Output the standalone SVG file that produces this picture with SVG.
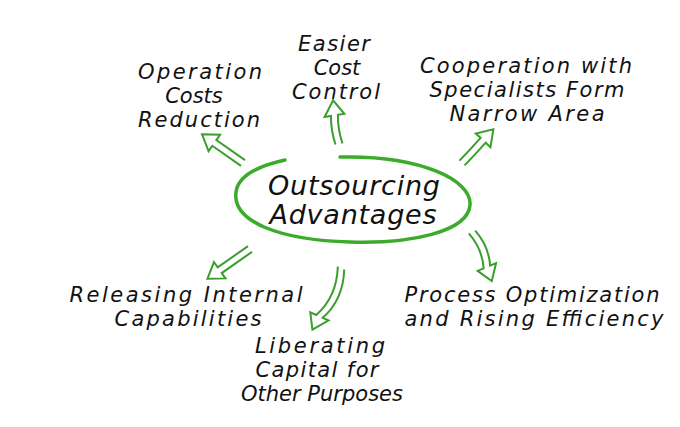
<svg xmlns="http://www.w3.org/2000/svg" width="680" height="427" viewBox="0 0 680 427">
<style>
.t{font-family:"DejaVu Sans","Liberation Sans",sans-serif;font-style:italic;font-size:21px;fill:#111;text-anchor:middle}
.big{font-size:27px}
.arr{fill:#fff;stroke:#3a9e2c;stroke-width:2;stroke-linejoin:miter}
</style>
<rect width="680" height="427" fill="#fff"/>
<g id="center">
<path d="M340,157 C420,155 472,180 470,205 C468,232 410,244 350,242 C280,240 232,222 236,192 C238,176 258,166 285,160" fill="none" stroke="#3cab2c" stroke-width="3.5" stroke-linecap="round"/>
<text class="t big" x="354" y="195" textLength="172" lengthAdjust="spacing">Outsourcing</text>
<text class="t big" x="353" y="224" textLength="167" lengthAdjust="spacing">Advantages</text>
</g>
<g id="connectors">
<path class="arr" transform="translate(243,163) rotate(215)" d="M0,-3.5 L35,-3.5 L35,-10 L50,0 L35,10 L35,3.5 L0,3.5"/>
<path class="arr" transform="translate(339,144) rotate(261)" d="M0,-3.5 Q15,-6 29,-3.5 L29,-10 L44,1 L29,10 L29,3.5 Q15,1 0,3.5"/>
<path class="arr" transform="translate(462,163) rotate(-47)" d="M0,-3.5 Q16,-3 31,-3.5 L31,-10 L46,0 L31,10 L31,3.5 Q16,4 0,3.5"/>
<path class="arr" transform="translate(250,249) rotate(145)" d="M0,-3.5 L37,-3.5 L37,-10 L52,0 L37,10 L37,3.5 L0,3.5"/>
<path class="arr" transform="translate(341,268) rotate(114)" d="M0,-3.5 Q28,-15 53,-3.5 L53,-10 L68,1 L53,10 L53,3.5 Q28,-8 0,3.5"/>
<path class="arr" transform="translate(472,232) rotate(67)" d="M0,-3.5 Q20,-10 38,-3.5 L38,-10 L53,1 L38,10 L38,3.5 Q20,-3 0,3.5"/>
</g>
<g id="n-easier">
<text class="t" x="334" y="51" textLength="72" lengthAdjust="spacing">Easier</text>
<text class="t" x="337" y="75">Cost</text>
<text class="t" x="336" y="99" textLength="88" lengthAdjust="spacing">Control</text>
</g>
<g id="n-operation">
<text class="t" x="200" y="79" textLength="124" lengthAdjust="spacing">Operation</text>
<text class="t" x="194" y="103">Costs</text>
<text class="t" x="199" y="127" textLength="122" lengthAdjust="spacing">Reduction</text>
</g>
<g id="n-cooperation">
<text class="t" x="526" y="73" textLength="212" lengthAdjust="spacing">Cooperation with</text>
<text class="t" x="527" y="97" textLength="195" lengthAdjust="spacing">Specialists Form</text>
<text class="t" x="527" y="121" textLength="155" lengthAdjust="spacing">Narrow Area</text>
</g>
<g id="n-releasing">
<text class="t" x="186" y="302" textLength="233" lengthAdjust="spacing">Releasing Internal</text>
<text class="t" x="188" y="326" textLength="147" lengthAdjust="spacing">Capabilities</text>
</g>
<g id="n-liberating">
<text class="t" x="320" y="353" textLength="130" lengthAdjust="spacing">Liberating</text>
<text class="t" x="317" y="377" textLength="123" lengthAdjust="spacing">Capital for</text>
<text class="t" x="322" y="401">Other Purposes</text>
</g>
<g id="n-process">
<text class="t" x="532" y="302" textLength="255" lengthAdjust="spacing">Process Optimization</text>
<text class="t" x="534" y="326" textLength="259" lengthAdjust="spacing">and Rising Efficiency</text>
</g>
</svg>
